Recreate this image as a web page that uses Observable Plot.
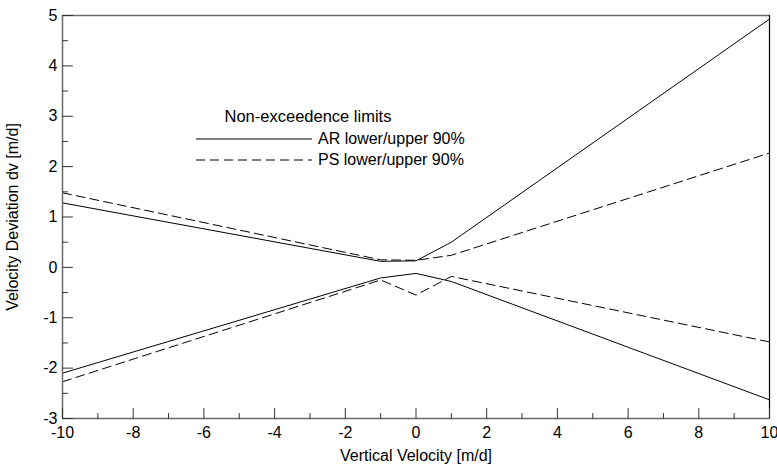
<!DOCTYPE html>
<html>
<head>
<meta charset="utf-8">
<script src="https://cdn.jsdelivr.net/npm/d3@7"></script>
<script src="https://cdn.jsdelivr.net/npm/@observablehq/plot@0.6"></script>
<style>
  html, body { margin: 0; padding: 0; background: #fff; }
  #wrap { position: relative; width: 777px; height: 465px; font-family: "Liberation Sans", Arial, sans-serif; }
  #legend { position: absolute; left: 0; top: 0; pointer-events: none; }
</style>
</head>
<body>
<div id="wrap"></div>
<script>
// Data
const xs = [-10, -1, 0, 1, 10];
const arUpper = [1.28, 0.12, 0.13, 0.5, 4.93];
const arLower = [-2.1, -0.21, -0.12, -0.28, -2.63];
const psUpper = [1.48, 0.15, 0.14, 0.24, 2.27];
const psLower = [-2.27, -0.25, -0.55, -0.18, -1.48];

const xMajor = [-10, -8, -6, -4, -2, 0, 2, 4, 6, 8, 10];
const xMinor = [-9, -7, -5, -3, -1, 1, 3, 5, 7, 9];
const yMajor = [-3, -2, -1, 0, 1, 2, 3, 4, 5];
const yMinor = [-2.5, -1.5, -0.5, 0.5, 1.5, 2.5, 3.5, 4.5];

const seriesNames = ["AR lower/upper 90%", "PS lower/upper 90%"];
const legendTitle = "Non-exceedence limits";
const xLabel = "Vertical Velocity [m/d]";
const yLabel = "Velocity Deviation dv [m/d]";

const toPts = (ys) => xs.map((x, i) => ({x, y: ys[i]}));

const tickShape = { draw(ctx, l) { ctx.moveTo(0, 0); ctx.lineTo(0, -l); } };
const axisColor = "#6a6a6a";
const font = "Liberation Sans, Arial, sans-serif";
const fmt = d => String(d).replace("−", "-");

const chart = Plot.plot({
  width: 777,
  height: 465,
  marginLeft: 62,
  marginRight: 8,
  marginTop: 15,
  marginBottom: 47,
  style: { fontFamily: font, fontSize: "16px", background: "white", color: "black" },
  x: { domain: [-10, 10] },
  y: { domain: [-3, 5] },
  marks: [
    // frame
    Plot.ruleY([5], { stroke: axisColor, strokeWidth: 1.5 }),
    Plot.ruleX([10], { stroke: "black", strokeWidth: 1.2 }),
    // data
    Plot.line(toPts(arUpper), { x: "x", y: "y", stroke: "black", strokeWidth: 1 }),
    Plot.line(toPts(arLower), { x: "x", y: "y", stroke: "black", strokeWidth: 1 }),
    Plot.line(toPts(psUpper), { x: "x", y: "y", stroke: "black", strokeWidth: 1, strokeDasharray: "9,5" }),
    Plot.line(toPts(psLower), { x: "x", y: "y", stroke: "black", strokeWidth: 1, strokeDasharray: "9,5" }),
    // axis lines
    Plot.ruleY([-3], { stroke: axisColor, strokeWidth: 1.5 }),
    Plot.ruleX([-10], { stroke: axisColor, strokeWidth: 1.5 }),
    // inward ticks
    Plot.vector(xMajor, { x: d => d, y: -3, length: 10, rotate: 0, anchor: "start", shape: tickShape, stroke: "#333", strokeWidth: 1 }),
    Plot.vector(xMinor, { x: d => d, y: -3, length: 5, rotate: 0, anchor: "start", shape: tickShape, stroke: "#333", strokeWidth: 1 }),
    Plot.vector(yMajor, { x: -10, y: d => d, length: 10, rotate: 90, anchor: "start", shape: tickShape, stroke: "#333", strokeWidth: 1 }),
    Plot.vector(yMinor, { x: -10, y: d => d, length: 5, rotate: 90, anchor: "start", shape: tickShape, stroke: "#333", strokeWidth: 1 }),
    // tick labels
    Plot.axisX({ ticks: xMajor, tickSize: 0, tickPadding: 8, label: null, fontSize: 16, tickFormat: fmt }),
    Plot.axisY({ ticks: yMajor, tickSize: 0, tickPadding: 5, label: null, fontSize: 16, tickFormat: fmt }),
    // axis titles
    Plot.text([xLabel], { frameAnchor: "bottom", dy: 42, text: d => d, fontSize: 16, lineAnchor: "bottom", textAnchor: "middle" }),
    Plot.text([yLabel], { frameAnchor: "left", dx: -50, rotate: -90, text: d => d, fontSize: 16, lineAnchor: "middle", textAnchor: "middle" })
  ]
});

const wrap = document.getElementById("wrap");
wrap.appendChild(chart);

// Legend overlay
const ns = "http://www.w3.org/2000/svg";
const leg = document.createElementNS(ns, "svg");
leg.setAttribute("id", "legend");
leg.setAttribute("width", 777);
leg.setAttribute("height", 465);
leg.style.fontFamily = font;
const t = document.createElementNS(ns, "text");
t.setAttribute("x", 308); t.setAttribute("y", 122);
t.setAttribute("text-anchor", "middle");
t.setAttribute("font-size", "16.5");
t.textContent = legendTitle;
leg.appendChild(t);
const dashes = [null, "9,5"];
seriesNames.forEach((name, i) => {
  const yy = 139 + i * 21;
  const l = document.createElementNS(ns, "line");
  l.setAttribute("x1", 196); l.setAttribute("x2", 312);
  l.setAttribute("y1", yy); l.setAttribute("y2", yy);
  l.setAttribute("stroke", "black");
  l.setAttribute("stroke-width", 1);
  if (dashes[i]) l.setAttribute("stroke-dasharray", dashes[i]);
  leg.appendChild(l);
  const tx = document.createElementNS(ns, "text");
  tx.setAttribute("x", 318); tx.setAttribute("y", yy + 5);
  tx.setAttribute("font-size", "16");
  tx.textContent = name;
  leg.appendChild(tx);
});
wrap.appendChild(leg);
</script>
</body>
</html>
